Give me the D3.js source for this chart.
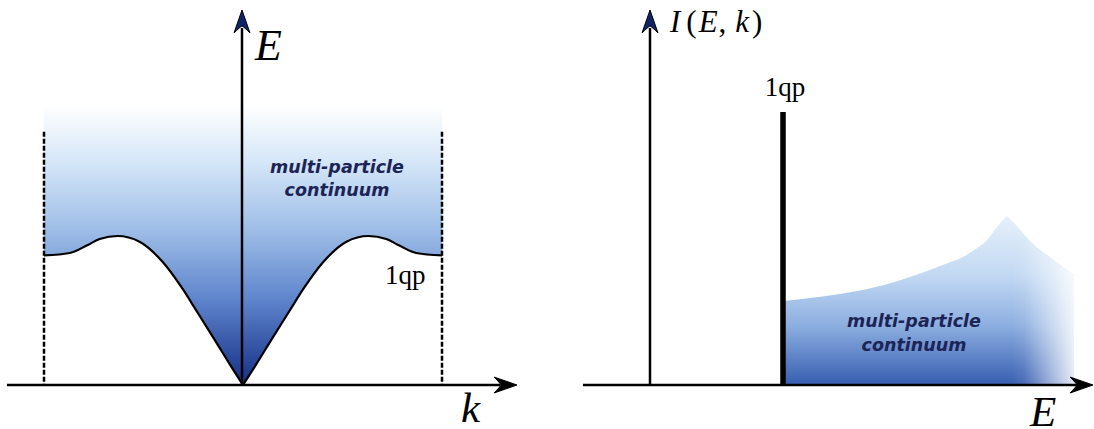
<!DOCTYPE html>
<html>
<head>
<meta charset="utf-8">
<script src="https://cdn.jsdelivr.net/npm/d3@7"></script>
<style>
  body { margin: 0; background: #fff; }
  svg { display: block; }
</style>
</head>
<body>
<svg id="chart" width="1094" height="429"></svg>
<script>
// Left panel: dispersion of the single quasiparticle (left half, mirrored for k > 0)
const dispK = [-1.0, -0.87, -0.78, -0.72, -0.63, -0.52, -0.40, -0.31, -0.23, -0.15, -0.06, 0]
const dispE = [0.87, 0.886, 0.94, 0.98, 1.0, 0.962, 0.82, 0.658, 0.49, 0.32, 0.125, 0]
const continuumTopE = 1.88   // where the continuum fades out
const zoneEdgeTopE = 1.70    // top of the dashed zone-boundary lines

// Right panel: spectral weight I(E,k) at fixed k
const qpEnergy = 1.0
const qpWeight = 1.0
const contE = [1.0, 1.376, 1.632, 1.887, 2.143, 2.406, 2.534, 2.632, 2.684, 2.737, 2.865, 3.015, 3.188]
const contI = [0.308, 0.330, 0.352, 0.385, 0.429, 0.484, 0.531, 0.593, 0.619, 0.593, 0.524, 0.465, 0.403]
const cuspIndex = 8

const labelFont = "'Liberation Serif', 'DejaVu Serif', serif"
const textFont = "'DejaVu Sans', sans-serif"
const navy = "#1c2456"

const svg = d3.select("#chart")
const defs = svg.append("defs")

// ---------- scales ----------
const xK = d3.scaleLinear().domain([-1, 1]).range([44, 442])
const yE = d3.scaleLinear().domain([0, 1]).range([385, 236])

const xE = d3.scaleLinear().domain([0, 1]).range([650, 783])
const yI = d3.scaleLinear().domain([0, 1]).range([385, 112])

// ---------- gradients ----------
const gLeft = defs.append("linearGradient")
  .attr("id", "gLeft")
  .attr("gradientUnits", "userSpaceOnUse")
  .attr("x1", 0).attr("x2", 0)
  .attr("y1", yE(continuumTopE)).attr("y2", yE(0))
;[[0, "#ffffff"], [0.2, "#d6e7f8"], [0.45, "#9dbde7"], [0.7, "#5d83cb"], [1, "#142e84"]]
  .forEach(([o, c]) => gLeft.append("stop").attr("offset", o).attr("stop-color", c))

const gRight = defs.append("linearGradient")
  .attr("id", "gRight")
  .attr("gradientUnits", "userSpaceOnUse")
  .attr("x1", 0).attr("x2", 0)
  .attr("y1", yI(0.62)).attr("y2", yI(0))
;[[0, "#e6f0fb"], [0.35, "#c2d9f3"], [0.65, "#8caee0"], [1, "#375eb1"]]
  .forEach(([o, c]) => gRight.append("stop").attr("offset", o).attr("stop-color", c))

const gFade = defs.append("linearGradient")
  .attr("id", "gFade")
  .attr("gradientUnits", "userSpaceOnUse")
  .attr("y1", 0).attr("y2", 0)
  .attr("x1", xE(2.72)).attr("x2", xE(3.19))
;[[0, 0], [0.2, 0.08], [1, 0.88]]
  .forEach(([o, a]) => gFade.append("stop").attr("offset", o)
    .attr("stop-color", "#ffffff").attr("stop-opacity", a))

// ---------- arrowhead helper ----------
function arrowHead(g, x, y, angle, fill) {
  g.append("path")
    .attr("d", "M0,0 L-23,-8 Q-17,-2 -16,0 Q-17,2 -23,8 Z")
    .attr("transform", `translate(${x},${y}) rotate(${angle})`)
    .attr("fill", fill)
    .attr("stroke", "#000")
    .attr("stroke-width", 1)
    .attr("stroke-linejoin", "miter")
}

// ================= LEFT PANEL =================
const left = svg.append("g")
const halfL = dispK.map((k, i) => ({ k, e: dispE[i] }))
const halfR = halfL.map(d => ({ k: -d.k, e: d.e })).reverse()

// continuum fill above the 1qp line (two halves so the V at k=0 stays sharp)
const areaTop = d3.area()
  .x(d => xK(d.k))
  .y0(yE(continuumTopE))
  .y1(d => yE(d.e))
  .curve(d3.curveMonotoneX)

;[halfL, halfR].forEach(h => {
  left.append("path")
    .attr("d", areaTop(h))
    .attr("fill", "url(#gLeft)")
    .attr("stroke", "url(#gLeft)")
    .attr("stroke-width", 0.6)
})

// dashed zone boundaries
;[-1, 1].forEach(k => {
  left.append("line")
    .attr("x1", xK(k)).attr("x2", xK(k))
    .attr("y1", yE(zoneEdgeTopE)).attr("y2", yE(0))
    .attr("stroke", "#000")
    .attr("stroke-width", 2.5)
    .attr("stroke-dasharray", "5,2")
})

// dispersion line
const dispLine = d3.line()
  .x(d => xK(d.k))
  .y(d => yE(d.e))
  .curve(d3.curveMonotoneX)

;[halfL, halfR].forEach(h => {
  left.append("path")
    .attr("d", dispLine(h))
    .attr("fill", "none")
    .attr("stroke", "#000")
    .attr("stroke-width", 2.2)
})

// axes
left.append("line")
  .attr("x1", 7).attr("x2", 500)
  .attr("y1", yE(0)).attr("y2", yE(0))
  .attr("stroke", "#000").attr("stroke-width", 2.5)
arrowHead(left, 517, yE(0), 0, "#000")

left.append("line")
  .attr("x1", xK(0) - 1).attr("x2", xK(0) - 1)
  .attr("y1", yE(0)).attr("y2", 28)
  .attr("stroke", "#000").attr("stroke-width", 2.5)
arrowHead(left, xK(0) - 1, 10, -90, "#0f2366")

left.append("text")
  .attr("x", 255).attr("y", 60)
  .attr("font-family", labelFont)
  .attr("font-style", "italic")
  .attr("font-size", 44)
  .text("E")

left.append("text")
  .attr("x", 461).attr("y", 422)
  .attr("font-family", labelFont)
  .attr("font-style", "italic")
  .attr("font-size", 43)
  .text("k")

left.append("text")
  .attr("x", 385).attr("y", 284)
  .attr("font-family", labelFont)
  .attr("font-size", 27)
  .text("1qp")

const lt = left.append("text")
  .attr("text-anchor", "middle")
  .attr("font-family", textFont)
  .attr("font-style", "italic")
  .attr("font-weight", "bold")
  .attr("font-size", 17.5)
  .attr("fill", navy)
lt.append("tspan").attr("x", 337).attr("y", 173).text("multi-particle")
lt.append("tspan").attr("x", 337).attr("y", 196).text("continuum")

// ================= RIGHT PANEL =================
const right = svg.append("g")
const cont = contE.map((e, i) => ({ e, v: contI[i] }))
const rise = cont.slice(0, cuspIndex + 1)
const fall = cont.slice(cuspIndex)

const contLine = d3.line()
  .x(d => xE(d.e))
  .y(d => yI(d.v))
  .curve(d3.curveMonotoneX)

const last = cont[cont.length - 1]
const contPath = contLine(rise) +
  contLine(fall).replace(/^M/, "L") +
  `L${xE(last.e)},${yI(0)}L${xE(cont[0].e)},${yI(0)}Z`

right.append("path")
  .attr("d", contPath)
  .attr("fill", "url(#gRight)")
right.append("path")
  .attr("d", contPath)
  .attr("fill", "url(#gFade)")

// axes
right.append("line")
  .attr("x1", 583).attr("x2", 1078)
  .attr("y1", yI(0)).attr("y2", yI(0))
  .attr("stroke", "#000").attr("stroke-width", 2.5)
arrowHead(right, 1093, yI(0), 0, "#000")

right.append("line")
  .attr("x1", xE(0)).attr("x2", xE(0))
  .attr("y1", yI(0)).attr("y2", 28)
  .attr("stroke", "#000").attr("stroke-width", 2.5)
arrowHead(right, xE(0), 10, -90, "#0f2366")

// quasiparticle delta peak
right.append("line")
  .attr("x1", xE(qpEnergy)).attr("x2", xE(qpEnergy))
  .attr("y1", yI(0)).attr("y2", yI(qpWeight))
  .attr("stroke", "#000").attr("stroke-width", 5.5)

right.append("text")
  .attr("x", xE(qpEnergy) + 2).attr("y", 96)
  .attr("text-anchor", "middle")
  .attr("font-family", labelFont)
  .attr("font-size", 27)
  .text("1qp")

const ik = right.append("text")
  .attr("x", 670).attr("y", 32)
  .attr("font-family", labelFont)
  .attr("font-size", 31)
ik.append("tspan").attr("font-style", "italic").text("I")
ik.append("tspan").attr("dx", 6).text("(")
ik.append("tspan").attr("dx", 2).attr("font-style", "italic").text("E")
ik.append("tspan").attr("dx", 1).text(",")
ik.append("tspan").attr("dx", 9).attr("font-style", "italic").text("k")
ik.append("tspan").attr("dx", 3).text(")")

right.append("text")
  .attr("x", 1030).attr("y", 426)
  .attr("font-family", labelFont)
  .attr("font-style", "italic")
  .attr("font-size", 43)
  .text("E")

const rt = right.append("text")
  .attr("text-anchor", "middle")
  .attr("font-family", textFont)
  .attr("font-style", "italic")
  .attr("font-weight", "bold")
  .attr("font-size", 17.5)
  .attr("fill", navy)
rt.append("tspan").attr("x", 914).attr("y", 327).text("multi-particle")
rt.append("tspan").attr("x", 914).attr("y", 351).text("continuum")
</script>
</body>
</html>
